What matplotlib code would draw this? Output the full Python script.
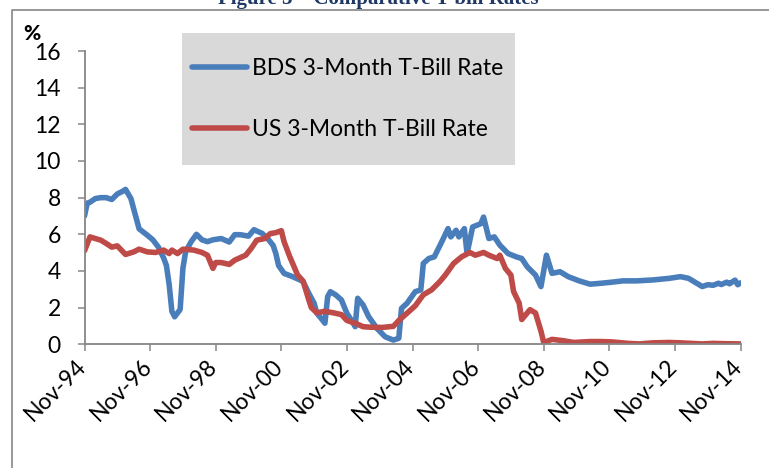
import matplotlib
matplotlib.use('Agg')
import matplotlib.pyplot as plt
import matplotlib.dates as mdates
import matplotlib.transforms as mtransforms
from matplotlib.patches import Rectangle
from matplotlib.lines import Line2D
import datetime

# BDS 3-month T-bill rate
bds_dates = ['1994-11', '1994-12', '1995-01', '1995-03', '1995-05', '1995-07', '1995-09', '1995-11',
             '1996-01', '1996-02', '1996-04', '1996-05', '1996-07', '1996-10', '1996-12', '1997-02',
             '1997-04', '1997-05', '1997-06', '1997-07', '1997-08', '1997-10', '1997-11', '1997-12',
             '1998-02', '1998-04', '1998-06', '1998-08', '1998-10', '1999-01', '1999-04', '1999-06',
             '1999-08', '1999-11', '2000-01', '2000-04', '2000-06', '2000-08', '2000-09', '2000-10',
             '2000-12', '2001-03', '2001-06', '2001-07', '2001-09', '2001-11', '2001-12', '2002-02',
             '2002-03', '2002-04', '2002-05', '2002-07', '2002-09', '2002-11', '2003-01', '2003-02',
             '2003-03', '2003-05', '2003-07', '2003-10', '2004-01', '2004-04', '2004-06', '2004-07',
             '2004-09', '2004-12', '2005-02', '2005-03', '2005-05', '2005-07', '2005-10', '2005-12',
             '2006-01', '2006-03', '2006-04', '2006-06', '2006-07', '2006-09', '2006-12', '2007-01',
             '2007-03', '2007-05', '2007-07', '2007-10', '2008-01', '2008-03', '2008-05', '2008-08',
             '2008-10', '2008-12', '2009-02', '2009-05', '2009-08', '2009-12', '2010-04', '2010-08',
             '2010-12', '2011-04', '2011-09', '2012-03', '2012-09', '2013-01', '2013-04', '2013-09',
             '2013-11', '2014-01', '2014-03', '2014-04', '2014-06', '2014-07', '2014-09', '2014-10',
             '2014-11']
bds_rates = [7.0, 7.7, 7.75, 7.95, 8.0, 8.0, 7.9, 8.2,
             8.35, 8.45, 7.95, 7.4, 6.3, 5.95, 5.7, 5.3,
             4.7, 4.3, 3.25, 1.8, 1.5, 1.9, 4.15, 5.05,
             5.6, 6.0, 5.7, 5.6, 5.7, 5.77, 5.58, 5.98,
             5.98, 5.9, 6.25, 6.05, 5.77, 5.4, 4.95, 4.3,
             3.87, 3.7, 3.5, 3.42, 2.8, 2.24, 1.7, 1.33,
             1.15, 2.6, 2.87, 2.69, 2.42, 1.69, 1.23, 0.96,
             2.51, 2.14, 1.51, 0.87, 0.41, 0.23, 0.33, 1.96,
             2.24, 2.87, 2.97, 4.41, 4.68, 4.77, 5.68, 6.31,
             5.86, 6.22, 5.86, 6.31, 4.95, 6.4, 6.58, 6.94,
             5.77, 5.86, 5.41, 4.95, 4.77, 4.68, 4.23, 3.78,
             3.15, 4.86, 3.87, 3.96, 3.69, 3.46, 3.28, 3.33,
             3.39, 3.46, 3.46, 3.51, 3.6, 3.69, 3.6, 3.15,
             3.25, 3.22, 3.33, 3.26, 3.39, 3.3, 3.5, 3.25,
             3.35]

# US 3-month T-bill rate
us_dates = ['1994-11', '1995-01', '1995-03', '1995-05', '1995-07', '1995-09', '1995-11', '1996-02',
            '1996-05', '1996-07', '1996-10', '1997-01', '1997-04', '1997-06', '1997-07', '1997-09',
            '1997-11', '1998-03', '1998-06', '1998-08', '1998-10', '1998-11', '1999-01', '1999-04',
            '1999-06', '1999-10', '1999-12', '2000-02', '2000-05', '2000-07', '2000-09', '2000-11',
            '2000-12', '2001-02', '2001-05', '2001-07', '2001-09', '2001-10', '2001-12', '2002-03',
            '2002-06', '2002-09', '2002-11', '2003-02', '2003-05', '2003-08', '2003-12', '2004-04',
            '2004-06', '2004-09', '2004-12', '2005-03', '2005-06', '2005-09', '2005-11', '2006-02',
            '2006-05', '2006-08', '2006-10', '2007-01', '2007-03', '2007-06', '2007-07', '2007-09',
            '2007-11', '2007-12', '2008-02', '2008-03', '2008-05', '2008-06', '2008-08', '2008-10',
            '2008-11', '2009-02', '2009-06', '2009-10', '2010-04', '2010-08', '2010-12', '2011-06',
            '2011-10', '2012-03', '2012-09', '2013-01', '2013-05', '2013-09', '2014-01', '2014-06',
            '2014-11']
us_rates = [5.1, 5.86, 5.77, 5.68, 5.5, 5.3, 5.37, 4.9,
            5.04, 5.19, 5.04, 5.01, 5.14, 4.95, 5.14, 4.95,
            5.19, 5.14, 5.01, 4.86, 4.14, 4.46, 4.46, 4.36,
            4.59, 4.86, 5.23, 5.68, 5.77, 6.04, 6.09, 6.2,
            5.6, 4.8, 3.78, 3.45, 2.45, 2.0, 1.72, 1.8,
            1.72, 1.62, 1.3, 1.15, 0.96, 0.93, 0.92, 0.98,
            1.3, 1.7, 2.1, 2.7, 2.97, 3.42, 3.78, 4.41,
            4.77, 5.01, 4.86, 5.01, 4.86, 4.68, 4.86, 4.14,
            3.78, 2.88, 2.25, 1.35, 1.71, 1.89, 1.71, 0.72,
            0.09, 0.27, 0.2, 0.1, 0.15, 0.15, 0.13, 0.05,
            0.02, 0.08, 0.1, 0.08, 0.05, 0.02, 0.05, 0.03,
            0.02]

tick_years = list(range(1994, 2015, 2))

def to_date(s):
    return datetime.datetime.strptime(s, '%Y-%m')

font = 'Lato'
blue = '#4a7ebb'
red = '#be4b48'
W, H = 769, 468
fig = plt.figure(figsize=(W / 100, H / 100), dpi=100)
ax = fig.add_axes([84.5 / W, 1 - 344.3 / H, 656 / W, (344.3 - 51) / H])

ax.plot([to_date(d) for d in bds_dates], bds_rates, color=blue, lw=4,
        solid_joinstyle='round', solid_capstyle='round')
ax.plot([to_date(d) for d in us_dates], us_rates, color=red, lw=4,
        solid_joinstyle='round', solid_capstyle='round')

ax.set_xlim(datetime.datetime(1994, 11, 1), datetime.datetime(2014, 11, 1))
ax.set_ylim(0, 16)
ax.set_yticks(range(0, 17, 2))
ax.set_xticks([datetime.datetime(y, 11, 1) for y in tick_years])
ax.xaxis.set_major_formatter(mdates.DateFormatter('%b-%y'))

for s in ['top', 'right']:
    ax.spines[s].set_visible(False)
for s in ['left', 'bottom']:
    ax.spines[s].set_color('#868686')
    ax.spines[s].set_linewidth(1.3)
ax.tick_params(axis='both', direction='out', length=5, width=1.1, color='#868686',
               labelsize=16.5, labelcolor='black')
ax.tick_params(axis='y', pad=12)
ax.tick_params(axis='x', pad=3)
offset = mtransforms.ScaledTranslation(6 / 100, 0, fig.dpi_scale_trans)
for lab in ax.get_xticklabels():
    lab.set_rotation(45)
    lab.set_ha('right')
    lab.set_fontfamily(font)
    lab.set_transform(lab.get_transform() + offset)
for lab in ax.get_yticklabels():
    lab.set_fontfamily(font)

# % label above the y axis
fig.text(32 / W, 1 - 33 / H, '%', ha='center', va='center', fontsize=15,
         fontweight='black', family=font)

# grey legend box
fig.patches.append(Rectangle((182 / W, 1 - 165 / H), (515 - 182) / W, (165 - 33) / H,
                             transform=fig.transFigure, facecolor='#d9d9d9',
                             edgecolor='none', zorder=0))
handles = [Line2D([0], [0], color=blue, lw=4, solid_capstyle='round'),
           Line2D([0], [0], color=red, lw=4, solid_capstyle='round')]
fig.legend(handles, ['BDS 3-Month T-Bill Rate', 'US 3-Month T-Bill Rate'],
           loc='center left', bbox_to_anchor=(181 / W, 1 - 99 / H), frameon=False,
           prop={'family': font, 'size': 16.5}, handlelength=2.4, handletextpad=0.2,
           labelspacing=1.75, borderpad=0)

# outer chart border
fig.add_artist(Line2D([12 / W, 12 / W, 1.0], [0.0, 1 - 10 / H, 1 - 10 / H],
                      transform=fig.transFigure, color='#868686', lw=1.2))

# cut-off figure title
fig.text(378 / W, 1 - 4 / H, 'Figure 3 \u2013 Comparative T-bill Rates', ha='center',
         va='baseline', fontsize=15, fontweight='bold', color='#1f3864',
         family='Liberation Serif')

fig.savefig('out.png', dpi=100)
